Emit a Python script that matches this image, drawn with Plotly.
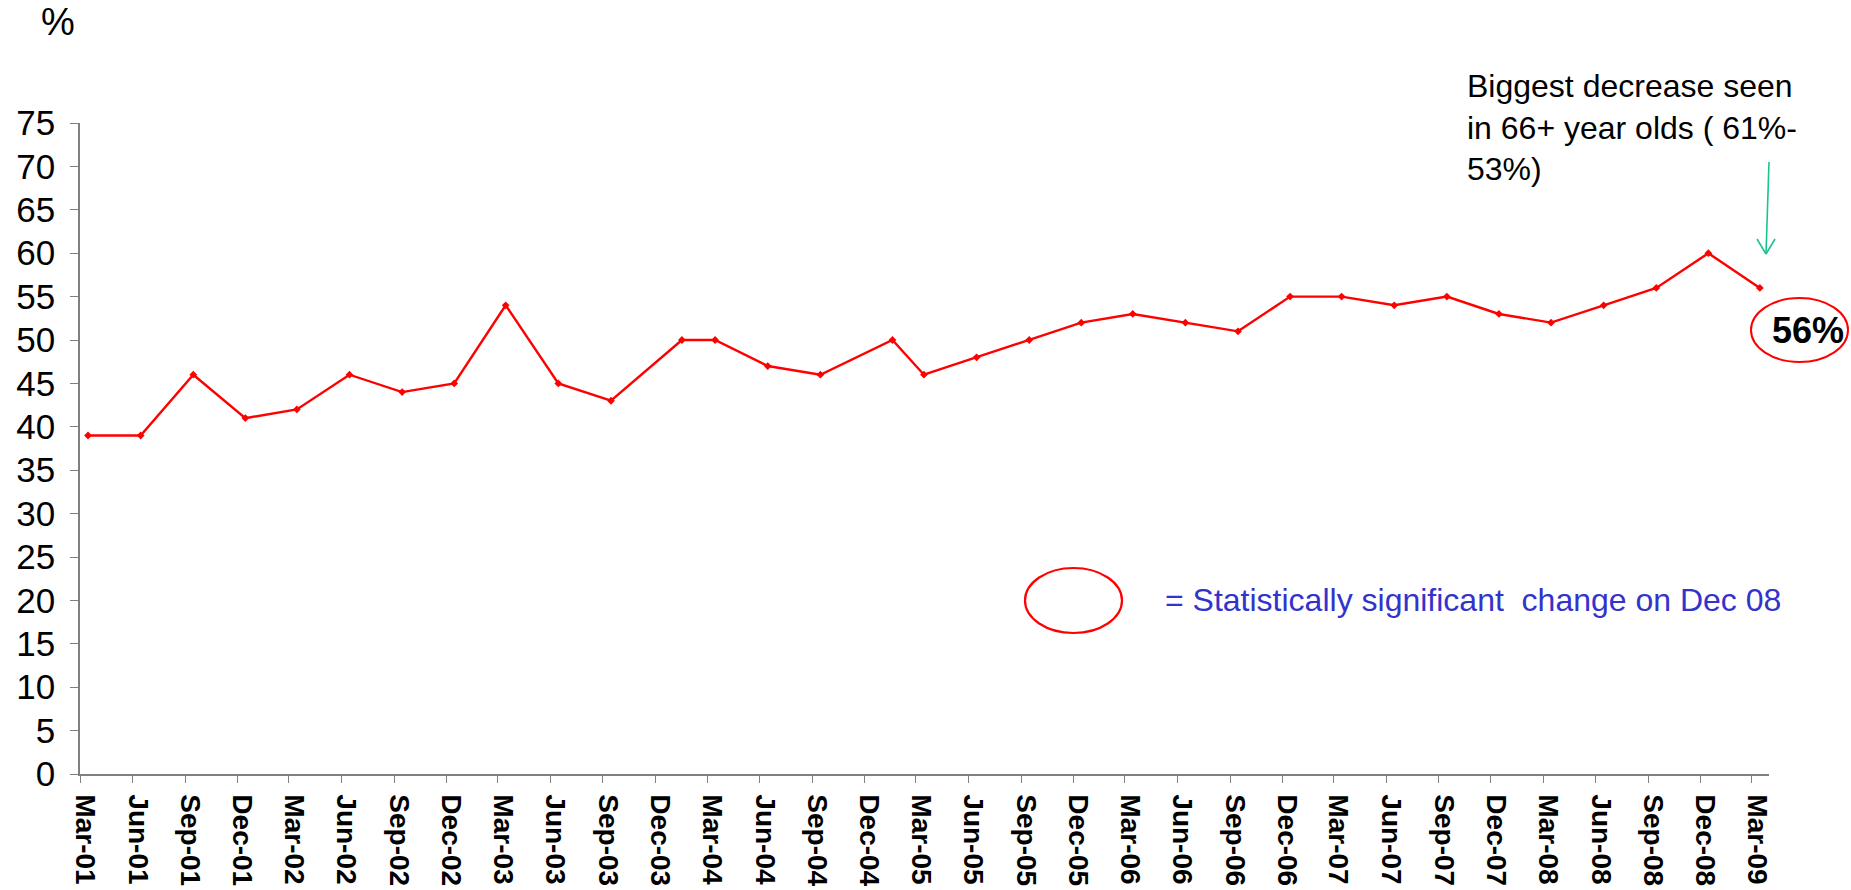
import plotly.graph_objects as go
import pandas as pd

# ---- data ----
survey_dates = [
    "2001-03-15", "2001-06-15", "2001-09-15", "2001-12-15",
    "2002-03-15", "2002-06-15", "2002-09-15", "2002-12-15",
    "2003-03-15", "2003-06-15", "2003-09-15", "2004-01-17",
    "2004-03-15", "2004-06-15", "2004-09-15", "2005-01-19",
    "2005-03-15", "2005-06-15", "2005-09-15", "2005-12-15",
    "2006-03-15", "2006-06-15", "2006-09-15", "2006-12-15",
    "2007-03-15", "2007-06-15", "2007-09-15", "2007-12-15",
    "2008-03-15", "2008-06-15", "2008-09-15", "2008-12-15",
    "2009-03-15",
]
pct_values = [
    39, 39, 46, 41,
    42, 46, 44, 45,
    54, 45, 43, 50,
    50, 47, 46, 50,
    46, 48, 50, 52,
    53, 52, 51, 55,
    55, 54, 55, 53,
    52, 54, 56, 60,
    56,
]
tick_labels = [
    "Mar-01", "Jun-01", "Sep-01", "Dec-01", "Mar-02", "Jun-02", "Sep-02", "Dec-02",
    "Mar-03", "Jun-03", "Sep-03", "Dec-03", "Mar-04", "Jun-04", "Sep-04", "Dec-04",
    "Mar-05", "Jun-05", "Sep-05", "Dec-05", "Mar-06", "Jun-06", "Sep-06", "Dec-06",
    "Mar-07", "Jun-07", "Sep-07", "Dec-07", "Mar-08", "Jun-08", "Sep-08", "Dec-08",
    "Mar-09",
]
tick_dates = [pd.to_datetime(t, format="%b-%y").strftime("%Y-%m-%d") for t in tick_labels]

# ---- layout geometry (pixels) ----
W, H = 1851, 890
L, R, T, B = 80, 82, 123, 116
PW, PH = W - L - R, H - T - B


def px(xp):
    return (xp - L) / PW


def py(yp):
    return (H - B - yp) / PH


FONT = "Liberation Sans, Arial, sans-serif"
RED = "#FF0000"
GREEN = "#1BC48F"

fig = go.Figure()
fig.add_trace(go.Scatter(
    x=survey_dates, y=pct_values, mode="lines+markers",
    line=dict(color=RED, width=2.4),
    marker=dict(symbol="diamond", size=6, color=RED),
    showlegend=False, hoverinfo="x+y",
))

shapes = [
    # ellipse around last value
    dict(type="circle", xref="paper", yref="paper",
         x0=px(1751), x1=px(1848), y0=py(362), y1=py(298),
         line=dict(color=RED, width=2)),
    # legend ellipse
    dict(type="circle", xref="paper", yref="paper",
         x0=px(1025), x1=px(1122), y0=py(633), y1=py(568),
         line=dict(color=RED, width=2.2)),
    # green arrow
    dict(type="line", xref="paper", yref="paper",
         x0=px(1769), y0=py(162), x1=px(1766), y1=py(254),
         line=dict(color=GREEN, width=1.6)),
    dict(type="line", xref="paper", yref="paper",
         x0=px(1757), y0=py(239), x1=px(1766), y1=py(254),
         line=dict(color=GREEN, width=1.6)),
    dict(type="line", xref="paper", yref="paper",
         x0=px(1775), y0=py(239), x1=px(1766), y1=py(254),
         line=dict(color=GREEN, width=1.6)),
]

annotations = [
    dict(text="%", xref="paper", yref="paper", x=px(58), y=py(22),
         xanchor="center", yanchor="middle", showarrow=False,
         font=dict(family=FONT, size=38, color="black")),
    dict(text="Biggest decrease seen<br>in 66+ year olds ( 61%-<br>53%)",
         xref="paper", yref="paper", x=px(1465), y=py(66),
         xanchor="left", yanchor="top", align="left", showarrow=False,
         font=dict(family=FONT, size=32, color="black")),
    dict(text="<b>56%</b>", xref="paper", yref="paper", x=px(1808), y=py(330),
         xanchor="center", yanchor="middle", showarrow=False,
         font=dict(family=FONT, size=36, color="black")),
    dict(text="= Statistically significant \u00a0change on Dec 08",
         xref="paper", yref="paper", x=px(1163), y=py(600),
         xanchor="left", yanchor="middle", showarrow=False,
         font=dict(family=FONT, size=32, color="#3333CC")),
]

fig.update_layout(
    width=W, height=H,
    margin=dict(l=L, r=R, t=T, b=B, autoexpand=False),
    paper_bgcolor="white", plot_bgcolor="white",
    shapes=shapes, annotations=annotations,
    font=dict(family=FONT, color="black"),
    xaxis=dict(
        type="date", range=["2001-03-01", "2009-03-31"],
        tickmode="array", tickvals=tick_dates, ticktext=tick_labels,
        tickangle=90, tickfont=dict(family=FONT, size=28, color="black", weight="bold"),
        ticklabelstandoff=6, ticklabelshift=5,
        showgrid=False, zeroline=False, showline=True, linecolor="#808080", linewidth=1.5,
        ticks="outside", ticklen=7, tickcolor="#808080", tickwidth=1,
    ),
    yaxis=dict(
        range=[0, 75], dtick=5, tick0=0,
        tickfont=dict(family=FONT, size=35, color="black"),
        ticklabelstandoff=8,
        showgrid=False, zeroline=False, showline=True, linecolor="#808080", linewidth=1.5,
        ticks="outside", ticklen=8, tickcolor="#808080", tickwidth=1,
    ),
)

fig.write_html(
    "out.html",
    config={"displayModeBar": False},
    post_script="document.body.style.margin='0';document.body.style.overflow='hidden';",
)
